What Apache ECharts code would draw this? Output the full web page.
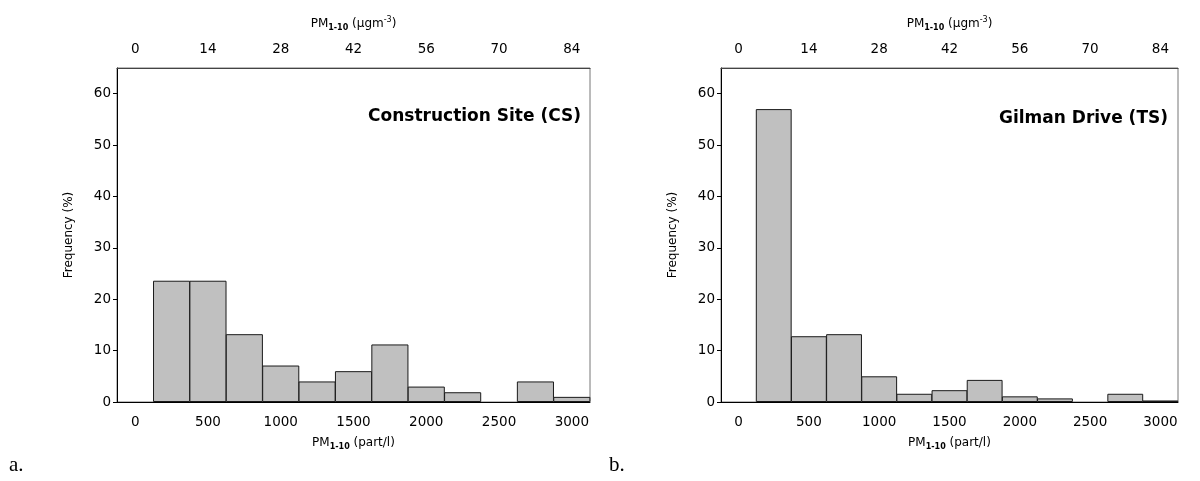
<!DOCTYPE html>
<html>
<head>
<meta charset="utf-8">
<script src="https://cdn.jsdelivr.net/npm/echarts@6/dist/echarts.min.js"></script>
<style>
  html, body { margin: 0; padding: 0; background: #fff; }
  #main { width: 1200px; height: 481px; }
</style>
</head>
<body>
<div id="main"></div>
<script>
// bins of the particle count (part/l), one category per bin
var binLabels = ['0', '250', '500', '750', '1000', '1250', '1500', '1750', '2000', '2250', '2500', '2750', '3000'];
// matching mass scale on the top axis (ugm-3)
var massLabels = ['0', '7', '14', '21', '28', '35', '42', '49', '56', '63', '70', '77', '84'];
// frequency (%) per bin
var csFreq = [null, 23.6, 23.6, 13.2, 7.1, 4.0, 6.0, 11.2, 3.0, 1.9, null, 4.0, 1.0];
var tsFreq = [null, 57.0, 12.8, 13.2, 5.0, 1.6, 2.3, 4.3, 1.1, 0.7, null, 1.6, 0.3];
var yTicks = [0, 10, 20, 30, 40, 50, 60];

var FONT = 'DejaVu Sans';
var nameRich = {
  a: { fontFamily: FONT, fontSize: 12, color: '#000', lineHeight: 16 },
  s: { fontFamily: FONT, fontSize: 8, fontWeight: 'bold', color: '#000', lineHeight: 8, verticalAlign: 'bottom' },
  p: { fontFamily: FONT, fontSize: 8, color: '#000', lineHeight: 8, verticalAlign: 'top' }
};

function bottomAxis(gi) {
  return {
    type: 'category', gridIndex: gi, position: 'bottom', data: binLabels,
    boundaryGap: true,
    axisLine: { lineStyle: { color: '#000', width: 1 } },
    axisTick: { interval: 0, length: 4, lineStyle: { color: '#000' } },
    axisLabel: { interval: 1, margin: 13, color: '#000', fontFamily: FONT, fontSize: 13.5 },
    name: '{a|PM}{s|1-10}{a| (part/l)}', nameLocation: 'middle', nameGap: 33,
    nameTextStyle: { rich: nameRich }
  };
}
function topAxis(gi) {
  return {
    type: 'category', gridIndex: gi, position: 'top', data: massLabels,
    boundaryGap: true,
    axisLine: { lineStyle: { color: '#444', width: 1 } },
    axisTick: { interval: 0, length: 4, lineStyle: { color: '#444' } },
    axisLabel: { interval: 1, margin: 12, color: '#000', fontFamily: FONT, fontSize: 13.5 },
    name: '{a|PM}{s|1-10}{a| (\u00b5gm}{p|-3}{a|)}', nameLocation: 'middle', nameGap: 36,
    nameTextStyle: { rich: nameRich }
  };
}
function leftAxis(gi) {
  return {
    type: 'value', gridIndex: gi, min: 0, max: 65,
    axisLine: { show: true, lineStyle: { color: '#000', width: 1 } },
    axisTick: { show: true, length: 4, customValues: yTicks, lineStyle: { color: '#000' } },
    axisLabel: { customValues: yTicks, margin: 6, color: '#000', fontFamily: FONT, fontSize: 13.5 },
    splitLine: { show: false },
    name: 'Frequency (%)', nameLocation: 'middle', nameGap: 42,
    nameTextStyle: { fontFamily: FONT, fontSize: 12, color: '#000' }
  };
}
function bars(gi, data) {
  return {
    type: 'bar', xAxisIndex: gi * 2, yAxisIndex: gi, data: data,
    barWidth: '102%', barCategoryGap: 0,
    itemStyle: { color: '#c0c0c0', borderColor: '#1a1a1a', borderWidth: 1 },
    silent: true, animation: false
  };
}

var chart = echarts.init(document.getElementById('main'), null, { renderer: 'canvas' });
chart.setOption({
  backgroundColor: '#fff',
  animation: false,
  grid: [
    { left: 117, top: 68, width: 473, height: 334, show: true, borderColor: '#777', borderWidth: 1, backgroundColor: 'transparent' },
    { left: 721, top: 68, width: 457, height: 334, show: true, borderColor: '#777', borderWidth: 1, backgroundColor: 'transparent' }
  ],
  xAxis: [bottomAxis(0), topAxis(0), bottomAxis(1), topAxis(1)],
  yAxis: [leftAxis(0), leftAxis(1)],
  series: [bars(0, csFreq), bars(1, tsFreq)],
  title: [
    { text: 'Construction Site (CS)', right: 1200 - 586, top: 103,
      textStyle: { fontFamily: FONT, fontSize: 17, fontWeight: 'bold', color: '#000' } },
    { text: 'Gilman Drive (TS)', right: 1200 - 1173, top: 105,
      textStyle: { fontFamily: FONT, fontSize: 17, fontWeight: 'bold', color: '#000' } },
    { text: 'a.', left: 4, top: 450,
      textStyle: { fontFamily: 'Liberation Serif', fontSize: 21, fontWeight: 'normal', color: '#000' } },
    { text: 'b.', left: 604, top: 450,
      textStyle: { fontFamily: 'Liberation Serif', fontSize: 21, fontWeight: 'normal', color: '#000' } }
  ]
});
</script>
</body>
</html>
